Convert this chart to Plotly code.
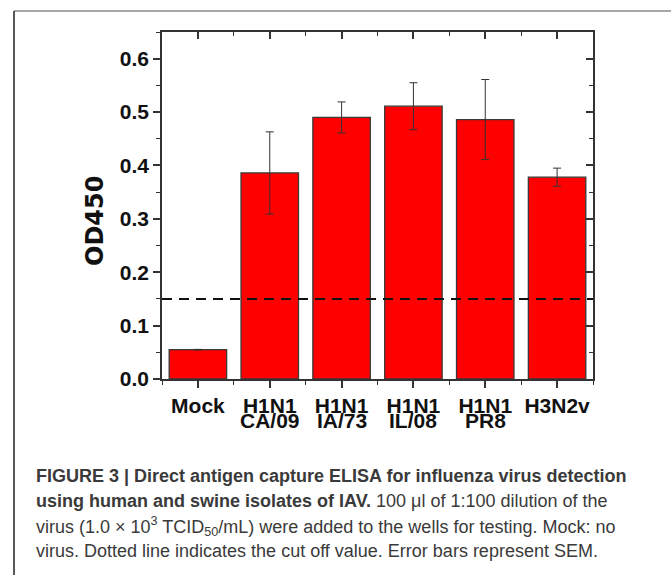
import plotly.graph_objects as go

# ---------------- data ----------------
categories_top = ["Mock", "H1N1", "H1N1", "H1N1", "H1N1", "H3N2v"]
categories_bottom = ["", "CA/09", "IA/73", "IL/08", "PR8", ""]
od450 = [0.055, 0.386, 0.490, 0.511, 0.486, 0.378]
sem = [0.0005, 0.077, 0.029, 0.044, 0.075, 0.017]
cutoff = 0.15
y_ticks = [0.0, 0.1, 0.2, 0.3, 0.4, 0.5, 0.6]
y_ticktext = ["0.0", "0.1", "0.2", "0.3", "0.4", "0.5", "0.6"]
y_title = "OD450"

x_pos = list(range(len(categories_top)))

# ---------------- layout geometry ----------------
W, H = 671, 575
L, R, T, B = 162, 593, 32, 379
def px2x(px):
    return (px - L) / (R - L)
def px2y(py):
    return (B - py) / (B - T)

AX = "#333333"
tick_font = dict(family="Liberation Sans, Arial, sans-serif", size=21, color="#111111", weight="bold")

fig = go.Figure()
fig.add_trace(go.Bar(
    x=x_pos, y=od450, width=0.8,
    marker=dict(color="#ff0000", line=dict(color="#3a3a3a", width=1.3)),
    error_y=dict(type="data", array=sem, visible=True, color="#333333", thickness=1, width=4),
    showlegend=False, hoverinfo="skip",
))
# invisible trace to anchor mirrored axes
fig.add_trace(go.Scatter(x=[x_pos[0]], y=[0], xaxis="x2", yaxis="y2", mode="markers",
                         marker=dict(opacity=0), showlegend=False, hoverinfo="skip"))

xr = [-0.5, len(x_pos) - 0.5]
yr = [0, 0.65]
minor_x = [i + 0.5 for i in range(-1, len(x_pos))]

fig.update_layout(
    width=W, height=H,
    margin=dict(l=L, r=W - R, t=T, b=H - B),
    paper_bgcolor="white", plot_bgcolor="white",
    bargap=0.2,
    xaxis=dict(range=xr, tickmode="array", tickvals=x_pos, ticktext=categories_top,
               ticks="outside", ticklen=7, tickwidth=1.5, tickcolor=AX,
               showline=True, linecolor=AX, linewidth=1.5, showgrid=False, zeroline=False,
               tickfont=tick_font,
               minor=dict(tickvals=minor_x, ticks="outside", ticklen=4, tickwidth=1.2, tickcolor=AX)),
    yaxis=dict(range=yr, tickmode="array", tickvals=y_ticks, ticktext=y_ticktext,
               ticks="outside", ticklen=7, tickwidth=1.5, tickcolor=AX,
               showline=True, linecolor=AX, linewidth=1.5, showgrid=False, zeroline=False,
               tickfont=tick_font,
               minor=dict(dtick=0.05, tick0=0, ticks="outside", ticklen=4, tickwidth=1.2, tickcolor=AX)),
    xaxis2=dict(range=xr, overlaying="x", side="top", tickmode="array", tickvals=x_pos,
                ticks="inside", ticklen=7, tickwidth=1.5, tickcolor=AX, showticklabels=False,
                showline=True, linecolor=AX, linewidth=1.5, showgrid=False, zeroline=False,
                minor=dict(tickvals=minor_x, ticks="inside", ticklen=4, tickwidth=1.2, tickcolor=AX)),
    yaxis2=dict(range=yr, overlaying="y", side="right", tickmode="array", tickvals=y_ticks,
                ticks="inside", ticklen=7, tickwidth=1.5, tickcolor=AX, showticklabels=False,
                showline=True, linecolor=AX, linewidth=1.5, showgrid=False, zeroline=False,
                minor=dict(dtick=0.05, tick0=0, ticks="inside", ticklen=4, tickwidth=1.2, tickcolor=AX)),
)

# y-axis title (placed slightly below plot centre as in the reference)
fig.add_annotation(x=px2x(95), xref="paper", y=px2y(221), yref="paper", text=y_title,
                   textangle=-90, showarrow=False, xanchor="center", yanchor="middle",
                   font=dict(family="DejaVu Sans, sans-serif", size=24, color="#111111", weight="bold"))

# cutoff dashed line
fig.add_shape(type="line", xref="paper", yref="y", x0=0, x1=1, y0=cutoff, y1=cutoff,
              line=dict(color="#111111", width=2, dash="10px,7px"))

# second line of category labels
for xi, lab in zip(x_pos, categories_bottom):
    if lab:
        fig.add_annotation(x=xi, xref="x", y=px2y(420), yref="paper", text=lab,
                           showarrow=False, font=tick_font, xanchor="center", yanchor="middle")

# page frame lines
fig.add_shape(type="line", xref="paper", yref="paper", x0=px2x(14), x1=px2x(W), y0=px2y(11), y1=px2y(11),
              line=dict(color="#8a8a8a", width=1.5))
fig.add_shape(type="line", xref="paper", yref="paper", x0=px2x(14), x1=px2x(14), y0=px2y(11), y1=px2y(H),
              line=dict(color="#222222", width=1.5))

# caption
cap_font = dict(family="Liberation Sans, Arial, sans-serif", size=18, color="#3a3a3a")
caption_lines = [
    "<b>FIGURE 3 | Direct antigen capture ELISA for influenza virus detection</b>",
    "<b>using human and swine isolates of IAV.</b> 100 μl of 1:100 dilution of the",
    "virus (1.0 × 10<sup>3</sup> TCID<sub>50</sub>/mL) were added to the wells for testing. Mock: no",
    "virus. Dotted line indicates the cut off value. Error bars represent SEM.",
]
caption_y = [476, 501, 526, 551]
for txt, yy in zip(caption_lines, caption_y):
    fig.add_annotation(x=px2x(34), xref="paper", y=px2y(yy), yref="paper", text=txt,
                       showarrow=False, font=cap_font, xanchor="left", yanchor="middle", align="left")

fig.write_html("out.html", config={"displayModeBar": False},
               post_script="document.body.style.margin='0';document.body.style.overflow='hidden';")
